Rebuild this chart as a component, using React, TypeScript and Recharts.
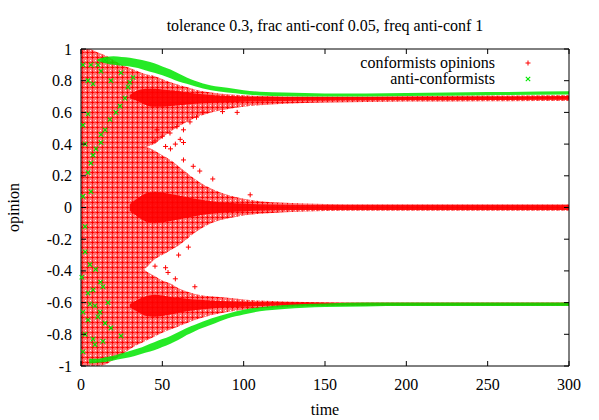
import React from "react";
import {
  ComposedChart,
  Area,
  Scatter,
  XAxis,
  YAxis,
  ReferenceArea,
} from "recharts";

// time grid the cluster envelopes were read at
const times = [0, 5, 10, 15, 20, 25, 30, 35, 40, 45, 50, 55, 60, 65, 70, 80, 90, 100, 110, 125, 150, 175, 200, 250, 300];

const N6 = [null, null, null, null, null, null];

// conformists: upper cluster (~0.68)
const topOuterLo = [0.3, 0.3, 0.3, 0.3, 0.3, 0.3, 0.32, 0.35, 0.38, 0.4, 0.44, 0.48, 0.51, 0.54, 0.565, 0.6, 0.62, 0.635, 0.645, 0.655, 0.663, 0.666, 0.668, 0.67, 0.672];
const topOuterHi = [1.0, 1.0, 0.98, 0.96, 0.93, 0.9, 0.88, 0.86, 0.84, 0.83, 0.81, 0.79, 0.775, 0.76, 0.745, 0.725, 0.715, 0.708, 0.703, 0.7, 0.7, 0.7, 0.702, 0.706, 0.71];
const topCoreLo = [...N6, 0.69, 0.67, 0.645, 0.635, 0.635, 0.64, 0.645, 0.65, 0.655, 0.66, 0.664, 0.667, 0.669, 0.672, 0.674, 0.675, 0.676, 0.678, 0.68];
const topCoreHi = [...N6, 0.71, 0.74, 0.75, 0.75, 0.745, 0.74, 0.735, 0.725, 0.72, 0.71, 0.705, 0.7, 0.698, 0.697, 0.697, 0.697, 0.698, 0.7, 0.703];

// conformists: middle cluster (0)
const midOuterLo = [-0.4, -0.4, -0.4, -0.4, -0.4, -0.4, -0.4, -0.4, -0.38, -0.33, -0.3, -0.27, -0.24, -0.2, -0.16, -0.1, -0.07, -0.05, -0.04, -0.03, -0.022, -0.02, -0.02, -0.02, -0.02];
const midOuterHi = [0.35, 0.35, 0.35, 0.35, 0.35, 0.35, 0.36, 0.37, 0.38, 0.36, 0.33, 0.3, 0.26, 0.22, 0.18, 0.12, 0.08, 0.055, 0.04, 0.03, 0.022, 0.02, 0.02, 0.02, 0.02];
const midCoreLo = [...N6, -0.02, -0.06, -0.09, -0.1, -0.095, -0.085, -0.075, -0.065, -0.055, -0.04, -0.03, -0.025, -0.02, -0.017, -0.015, -0.015, -0.015, -0.015, -0.015];
const midCoreHi = [...N6, 0.02, 0.06, 0.09, 0.1, 0.095, 0.085, 0.075, 0.065, 0.055, 0.04, 0.03, 0.025, 0.02, 0.017, 0.015, 0.015, 0.015, 0.015, 0.015];

// conformists: lower cluster (~-0.61)
const botOuterLo = [-1, -1, -1, -0.99, -0.96, -0.93, -0.895, -0.865, -0.84, -0.815, -0.79, -0.77, -0.75, -0.73, -0.71, -0.68, -0.66, -0.645, -0.635, -0.628, -0.622, -0.62, -0.62, -0.62, -0.62];
const botOuterHi = [-0.35, -0.35, -0.35, -0.35, -0.35, -0.35, -0.35, -0.35, -0.4, -0.43, -0.46, -0.48, -0.51, -0.53, -0.545, -0.56, -0.57, -0.58, -0.587, -0.593, -0.598, -0.6, -0.6, -0.6, -0.6];
const botCoreLo = [...N6, -0.63, -0.66, -0.685, -0.69, -0.685, -0.675, -0.665, -0.655, -0.648, -0.638, -0.63, -0.626, -0.622, -0.62, -0.618, -0.618, -0.618, -0.618, -0.618];
const botCoreHi = [...N6, -0.61, -0.58, -0.56, -0.55, -0.555, -0.565, -0.57, -0.575, -0.58, -0.587, -0.592, -0.595, -0.598, -0.6, -0.602, -0.602, -0.602, -0.602, -0.602];

// anti-conformists bands
const greenTopLo = [null, null, 0.925, 0.91, 0.9, 0.895, 0.89, 0.88, 0.865, 0.85, 0.835, 0.815, 0.795, 0.78, 0.765, 0.74, 0.725, 0.715, 0.707, 0.702, 0.7, 0.7, 0.703, 0.708, 0.713];
const greenTopHi = [null, null, 0.935, 0.95, 0.955, 0.95, 0.945, 0.935, 0.925, 0.91, 0.89, 0.87, 0.845, 0.82, 0.8, 0.77, 0.755, 0.74, 0.73, 0.725, 0.72, 0.72, 0.723, 0.728, 0.733];
const greenBotLo = [null, -0.985, -0.98, -0.975, -0.965, -0.955, -0.945, -0.93, -0.915, -0.9, -0.88, -0.86, -0.835, -0.805, -0.78, -0.74, -0.7, -0.675, -0.655, -0.64, -0.628, -0.624, -0.622, -0.622, -0.622];
const greenBotHi = [null, -0.955, -0.955, -0.945, -0.935, -0.92, -0.905, -0.89, -0.87, -0.85, -0.83, -0.81, -0.785, -0.76, -0.74, -0.7, -0.67, -0.645, -0.63, -0.615, -0.605, -0.6, -0.6, -0.6, -0.6];

// isolated anti-conformist points in the early phase
const greenStray = [
  { t: 1.2, v: 0.9 }, { t: 6.1, v: 0.9 }, { t: 10.4, v: 0.9 }, { t: 14.8, v: 0.93 },
  { t: 4.3, v: 0.8 }, { t: 7.4, v: 0.78 }, { t: 12.3, v: 0.86 }, { t: 18.4, v: 0.8 },
  { t: 24.6, v: 0.85 }, { t: 32, v: 0.82 }, { t: 28.9, v: 0.76 }, { t: 27, v: 0.69 },
  { t: 24, v: 0.64 }, { t: 21.5, v: 0.6 }, { t: 17.8, v: 0.555 }, { t: 14.8, v: 0.49 },
  { t: 12.3, v: 0.41 }, { t: 9.2, v: 0.37 }, { t: 7.4, v: 0.33 }, { t: 6.1, v: 0.28 },
  { t: 4.3, v: 0.22 }, { t: 1.2, v: 0.07 }, { t: 4.3, v: 0.59 }, { t: 1.2, v: 0.52 },
  { t: 12.3, v: 0.46 }, { t: 2.5, v: 0.4 }, { t: 6.1, v: 0.1 }, { t: 30, v: 0.79 },
  { t: 2.5, v: -0.12 }, { t: 2.5, v: -0.28 }, { t: 5.5, v: -0.36 }, { t: 9, v: -0.39 },
  { t: 0.5, v: -0.44 }, { t: 4.3, v: -0.54 }, { t: 7.4, v: -0.52 }, { t: 12, v: -0.47 },
  { t: 13.5, v: -0.5 }, { t: 1.2, v: -0.66 }, { t: 5.5, v: -0.61 }, { t: 8.6, v: -0.62 },
  { t: 11.7, v: -0.66 }, { t: 16.6, v: -0.6 }, { t: 4.3, v: -0.71 }, { t: 10.4, v: -0.69 },
  { t: 14.8, v: -0.73 }, { t: 18.4, v: -0.76 }, { t: 2.5, v: -0.8 }, { t: 7.4, v: -0.83 },
  { t: 13.5, v: -0.845 }, { t: 24.6, v: -0.81 }, { t: 8.6, v: -0.865 }, { t: 1.2, v: -0.91 },
];

// isolated conformist points in the gaps between clusters
const redStray = [
  { t: 46.7, v: 0.49 }, { t: 50, v: 0.45 }, { t: 54.7, v: 0.47 }, { t: 59, v: 0.51 },
  { t: 63, v: 0.49 }, { t: 67, v: 0.54 }, { t: 71, v: 0.57 }, { t: 63, v: 0.41 },
  { t: 58, v: 0.4 }, { t: 52, v: 0.385 }, { t: 75, v: 0.6 }, { t: 87, v: 0.605 },
  { t: 96, v: 0.6 }, { t: 45.5, v: 0.42 }, { t: 55, v: 0.37 }, { t: 61, v: 0.43 },
  { t: 69, v: 0.26 }, { t: 73, v: 0.23 }, { t: 63, v: 0.3 }, { t: 81, v: 0.18 },
  { t: 104, v: 0.08 }, { t: 52, v: -0.38 }, { t: 45.5, v: -0.37 }, { t: 53.5, v: -0.41 },
  { t: 60, v: -0.3 }, { t: 66, v: -0.25 }, { t: 58, v: -0.45 }, { t: 70, v: -0.5 },
];

const xTicks = [0, 50, 100, 150, 200, 250, 300];
const yTicks = [-1, -0.8, -0.6, -0.4, -0.2, 0, 0.2, 0.4, 0.6, 0.8, 1];

const seriesNames = ["conformists opinions", "anti-conformists"];
const titleText = "tolerance 0.3, frac anti-conf 0.05, freq anti-conf 1";

const rows = times.map((t, i) => ({
  t,
  topOuter: [topOuterLo[i], topOuterHi[i]],
  topCore: topCoreLo[i] == null ? null : [topCoreLo[i], topCoreHi[i]],
  midOuter: [midOuterLo[i], midOuterHi[i]],
  midCore: midCoreLo[i] == null ? null : [midCoreLo[i], midCoreHi[i]],
  botOuter: [botOuterLo[i], botOuterHi[i]],
  botCore: botCoreLo[i] == null ? null : [botCoreLo[i], botCoreHi[i]],
  greenTop: greenTopLo[i] == null ? null : [greenTopLo[i], greenTopHi[i]],
  greenBot: greenBotLo[i] == null ? null : [greenBotLo[i], greenBotHi[i]],
}));

const W = 599;
const H = 420;
const LEFT = 81;
const RIGHT = 569;
const TOP = 49;
const BOTTOM = 366;
const FONT = "'Liberation Serif', 'Times New Roman', Times, serif";
const FS = 16;
const RED = "#ff0000";
const GREEN = "#00e600";

const XTick = (props: any) => {
  const { x, payload } = props;
  return (
    <g>
      <line x1={x} x2={x} y1={BOTTOM} y2={BOTTOM - 5} stroke="#000" />
      <line x1={x} x2={x} y1={TOP} y2={TOP + 5} stroke="#000" />
      <text x={x} y={390} textAnchor="middle" fontFamily={FONT} fontSize={FS} fill="#000">
        {payload.value}
      </text>
    </g>
  );
};

const YTick = (props: any) => {
  const { y, payload } = props;
  const v = Math.round(payload.value * 10) / 10;
  return (
    <g>
      <line x1={LEFT} x2={LEFT + 5} y1={y} y2={y} stroke="#000" />
      <line x1={RIGHT - 5} x2={RIGHT} y1={y} y2={y} stroke="#000" />
      <text x={72} y={y + 5.5} textAnchor="end" fontFamily={FONT} fontSize={FS} fill="#000">
        {String(v)}
      </text>
    </g>
  );
};

const PlusMark = (props: any) => {
  const { cx, cy } = props;
  return (
    <path d={`M${cx - 2.5} ${cy}H${cx + 2.5}M${cx} ${cy - 2.5}V${cy + 2.5}`} stroke={RED} strokeWidth={1} />
  );
};

const CrossMark = (props: any) => {
  const { cx, cy } = props;
  return (
    <path
      d={`M${cx - 2.2} ${cy - 2.2}L${cx + 2.2} ${cy + 2.2}M${cx + 2.2} ${cy - 2.2}L${cx - 2.2} ${cy + 2.2}`}
      stroke={GREEN}
      strokeWidth={1.1}
    />
  );
};

const Overlay = () => (
  <svg
    width={W}
    height={H}
    style={{ position: "absolute", top: 0, left: 0, pointerEvents: "none" }}
  >
    <text x={(LEFT + RIGHT) / 2} y={31} textAnchor="middle" fontFamily={FONT} fontSize={FS}>
      {titleText}
    </text>
    <text x={495} y={68} textAnchor="end" fontFamily={FONT} fontSize={FS}>
      {seriesNames[0]}
    </text>
    <PlusMark cx={528} cy={63} />
    <text x={495} y={84} textAnchor="end" fontFamily={FONT} fontSize={FS}>
      {seriesNames[1]}
    </text>
    <CrossMark cx={528} cy={79} />
  </svg>
);

const areaProps = {
  type: "monotone" as const,
  stroke: "none",
  isAnimationActive: false,
  dot: false,
  activeDot: false,
};

export default function App() {
  return (
    <div style={{ position: "relative", width: W, height: H, background: "#fff" }}>
      <style>{"body{margin:0;background:#fff}"}</style>
      <ComposedChart
        width={W}
        height={H}
        data={rows}
        margin={{ top: TOP, right: W - RIGHT, bottom: 0, left: 0 }}
      >
        <defs>
          <pattern id="redPlus" width={5} height={5} patternUnits="userSpaceOnUse">
            <rect width={5} height={5} fill="#ff7676" />
            <rect width={1} height={1} fill="#fff" />
            <path d="M0.5 2.5H4.5M2.5 0.5V4.5" stroke={RED} strokeWidth={1} />
          </pattern>
        </defs>
        <XAxis
          dataKey="t"
          type="number"
          domain={[0, 300]}
          ticks={xTicks}
          height={H - BOTTOM}
          axisLine={false}
          tickLine={false}
          tick={<XTick />}
          label={{ value: "time", position: "insideBottom", offset: 5, fontFamily: FONT, fontSize: FS, fill: "#000" }}
        />
        <YAxis
          type="number"
          domain={[-1, 1]}
          ticks={yTicks}
          width={LEFT}
          axisLine={false}
          tickLine={false}
          tick={<YTick />}
          allowDataOverflow
          label={{ value: "opinion", angle: -90, position: "insideLeft", offset: 13, fontFamily: FONT, fontSize: FS, fill: "#000", style: { textAnchor: "middle" } }}
        />
        <Area dataKey="topOuter" {...areaProps} fill="url(#redPlus)" fillOpacity={1} />
        <Area dataKey="midOuter" {...areaProps} fill="url(#redPlus)" fillOpacity={1} />
        <Area dataKey="botOuter" {...areaProps} fill="url(#redPlus)" fillOpacity={1} />
        <Area dataKey="topCore" {...areaProps} fill={RED} fillOpacity={0.9} />
        <Area dataKey="midCore" {...areaProps} fill={RED} fillOpacity={0.9} />
        <Area dataKey="botCore" {...areaProps} fill={RED} fillOpacity={0.9} />
        <Scatter data={redStray} dataKey="v" shape={<PlusMark />} isAnimationActive={false} />
        <Area dataKey="greenTop" {...areaProps} fill={GREEN} fillOpacity={0.85} />
        <Area dataKey="greenBot" {...areaProps} fill={GREEN} fillOpacity={0.85} />
        <Scatter data={greenStray} dataKey="v" shape={<CrossMark />} isAnimationActive={false} />
        <ReferenceArea x1={0} x2={300} y1={-1} y2={1} fill="none" stroke="#000" strokeWidth={1} ifOverflow="visible" />
      </ComposedChart>
      <Overlay />
    </div>
  );
}
